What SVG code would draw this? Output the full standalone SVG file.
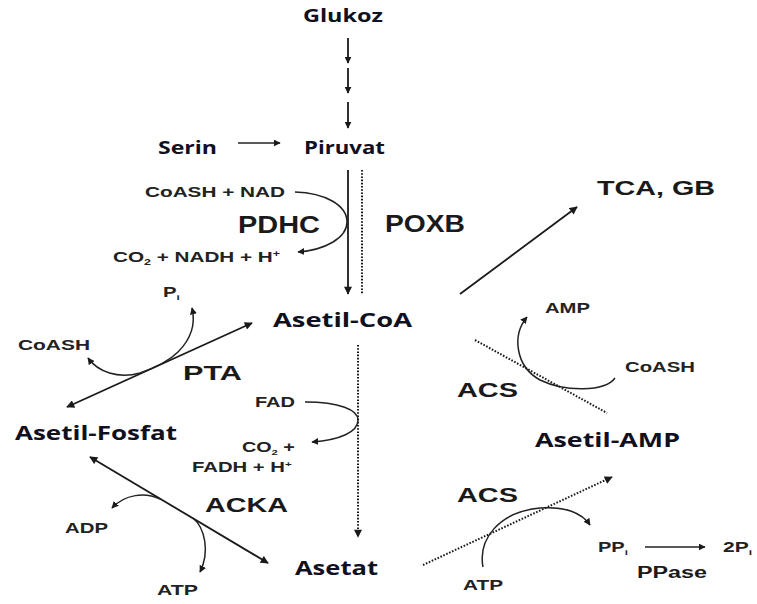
<svg xmlns="http://www.w3.org/2000/svg" width="757" height="604" viewBox="0 0 757 604">
<defs>
<marker id="ah" viewBox="0 0 10 10" refX="9" refY="5" markerWidth="9" markerHeight="8" markerUnits="userSpaceOnUse" orient="auto-start-reverse">
<path d="M0,0 L10,5 L0,10 Z" fill="#1a1a1a"/>
</marker>
<marker id="ahs" viewBox="0 0 10 10" refX="9" refY="5" markerWidth="7" markerHeight="7" markerUnits="userSpaceOnUse" orient="auto-start-reverse">
<path d="M0,0 L10,5 L0,10 Z" fill="#1a1a1a"/>
</marker>
<style>
.met{font-family:"Open Sans","Liberation Sans",sans-serif;font-weight:bold;fill:#10101f}
.enz{font-family:"Liberation Sans",Arial,sans-serif;font-weight:bold;fill:#1a1a1a}
.sm{font-family:"Liberation Sans",Arial,sans-serif;font-weight:bold;fill:#222;font-size:14px}
.ln{fill:none;stroke:#1a1a1a;stroke-width:1.8}
.cv{fill:none;stroke:#222;stroke-width:1.5}
.dt{fill:none;stroke:#1a1a1a;stroke-width:2;stroke-dasharray:1.6 1.6}
</style>
</defs>
<rect width="757" height="604" fill="#fff"/>

<g id="connectors">
<line class="ln" x1="348" y1="38" x2="348" y2="63" marker-end="url(#ahs)"/>
<line class="ln" x1="348" y1="68" x2="348" y2="93" marker-end="url(#ahs)"/>
<line class="ln" x1="348" y1="102" x2="348" y2="128" marker-end="url(#ahs)"/>
<line class="cv" x1="238" y1="143" x2="280" y2="143" marker-end="url(#ahs)"/>
<line class="ln" x1="348" y1="170" x2="348" y2="294" marker-end="url(#ah)"/>
<line class="dt" x1="362" y1="170" x2="362" y2="294"/>
<path class="cv" d="M295,192 C325,193 347,205 347,222 C347,238 325,250 298,252" marker-end="url(#ahs)"/>
<line class="ln" x1="460" y1="294" x2="577" y2="207" marker-end="url(#ah)"/>
<line class="ln" x1="67" y1="407" x2="252" y2="323" marker-start="url(#ah)" marker-end="url(#ah)"/>
<path class="cv" d="M88,358 C98,372 118,379 140,373 C160,366 170,360 178,352 C190,340 196,325 192,308" marker-start="url(#ahs)" marker-end="url(#ahs)"/>
<line class="dt" x1="358" y1="345" x2="358" y2="537" marker-end="url(#ah)"/>
<path class="cv" d="M305,402 C340,402 358,410 358,420 C358,432 340,440 312,442" marker-end="url(#ahs)"/>
<line class="ln" x1="90" y1="457" x2="268" y2="563" marker-start="url(#ah)" marker-end="url(#ah)"/>
<path class="cv" d="M160,499 C145,492 125,494 112,508" marker-end="url(#ahs)"/>
<path class="cv" d="M193,518 C205,528 210,552 200,572" marker-end="url(#ahs)"/>
<path class="cv" d="M615,378 C605,392 565,392 540,380 C515,366 512,335 527,317" marker-end="url(#ahs)"/>
<line class="dt" x1="475" y1="340" x2="607" y2="413"/>
<line class="dt" x1="423" y1="565" x2="612" y2="477" marker-end="url(#ah)"/>
<path class="cv" d="M483,567 C478,540 498,512 540,508 C565,506 582,513 590,525" marker-end="url(#ahs)"/>
<line class="cv" x1="645" y1="547" x2="705" y2="547" marker-end="url(#ahs)"/>
</g>

<g id="glukoz"><text class="met" x="303" y="22" font-size="17" textLength="80" lengthAdjust="spacingAndGlyphs">Glukoz</text></g>
<g id="serin"><text class="met" x="158" y="154" font-size="17" textLength="59" lengthAdjust="spacingAndGlyphs">Serin</text></g>
<g id="piruvat"><text class="met" x="304" y="154" font-size="17" textLength="81" lengthAdjust="spacingAndGlyphs">Piruvat</text></g>
<g id="asetil-coa"><text class="met" x="273" y="327" font-size="19" textLength="139" lengthAdjust="spacingAndGlyphs">Asetil-CoA</text></g>
<g id="asetil-fosfat"><text class="met" x="15" y="440" font-size="19" textLength="162" lengthAdjust="spacingAndGlyphs">Asetil-Fosfat</text></g>
<g id="asetat"><text class="met" x="295" y="575" font-size="19" textLength="83" lengthAdjust="spacingAndGlyphs">Asetat</text></g>
<g id="asetil-amp"><text class="met" x="535" y="447" font-size="19" textLength="145" lengthAdjust="spacingAndGlyphs">Asetil-AMP</text></g>
<g id="tca-gb"><text class="enz" x="597" y="195" font-size="21" textLength="118" lengthAdjust="spacingAndGlyphs">TCA, GB</text></g>

<g id="enzymes">
<text class="enz" x="238" y="233" font-size="24" textLength="82" lengthAdjust="spacingAndGlyphs">PDHC</text>
<text class="enz" x="385" y="232" font-size="24" textLength="80" lengthAdjust="spacingAndGlyphs">POXB</text>
<text class="enz" x="183" y="380" font-size="21" textLength="59" lengthAdjust="spacingAndGlyphs">PTA</text>
<text class="enz" x="205" y="512" font-size="21" textLength="83" lengthAdjust="spacingAndGlyphs">ACKA</text>
<text class="enz" x="457" y="397" font-size="21" textLength="61" lengthAdjust="spacingAndGlyphs">ACS</text>
<text class="enz" x="457" y="502" font-size="21" textLength="61" lengthAdjust="spacingAndGlyphs">ACS</text>
<text class="enz" x="637" y="578" font-size="16" textLength="70" lengthAdjust="spacingAndGlyphs">PPase</text>
</g>

<g id="cofactors">
<text class="sm" x="145" y="197" font-size="15" style="font-size:15px" textLength="140" lengthAdjust="spacingAndGlyphs">CoASH + NAD</text>
<text class="sm" style="font-size:15px" transform="translate(113,262) scale(1.38,1)">CO<tspan font-size="9" dy="3">2</tspan><tspan dy="-3"> + NADH + H</tspan><tspan font-size="9" dy="-5">+</tspan></text>
<text class="sm" transform="translate(163,297) scale(1.45,1)">P<tspan font-size="8" dy="3">i</tspan></text>
<text class="sm" x="18" y="350" textLength="72" lengthAdjust="spacingAndGlyphs">CoASH</text>
<text class="sm" x="255" y="407" textLength="40" lengthAdjust="spacingAndGlyphs">FAD</text>
<text class="sm" transform="translate(242,452) scale(1.41,1)">CO<tspan font-size="8" dy="3">2</tspan><tspan dy="-3"> +</tspan></text>
<text class="sm" transform="translate(192,472) scale(1.45,1)">FADH + H<tspan font-size="8" dy="-5">+</tspan></text>
<text class="sm" x="65" y="533" textLength="43" lengthAdjust="spacingAndGlyphs">ADP</text>
<text class="sm" x="157" y="595" textLength="41" lengthAdjust="spacingAndGlyphs">ATP</text>
<text class="sm" x="545" y="313" textLength="45" lengthAdjust="spacingAndGlyphs">AMP</text>
<text class="sm" x="625" y="372" textLength="70" lengthAdjust="spacingAndGlyphs">CoASH</text>
<text class="sm" x="463" y="590" textLength="40" lengthAdjust="spacingAndGlyphs">ATP</text>
<text class="sm" transform="translate(598,552) scale(1.43,1)">PP<tspan font-size="8" dy="3">i</tspan></text>
<text class="sm" transform="translate(723,552) scale(1.5,1)">2P<tspan font-size="8" dy="3">i</tspan></text>
</g>
</svg>
